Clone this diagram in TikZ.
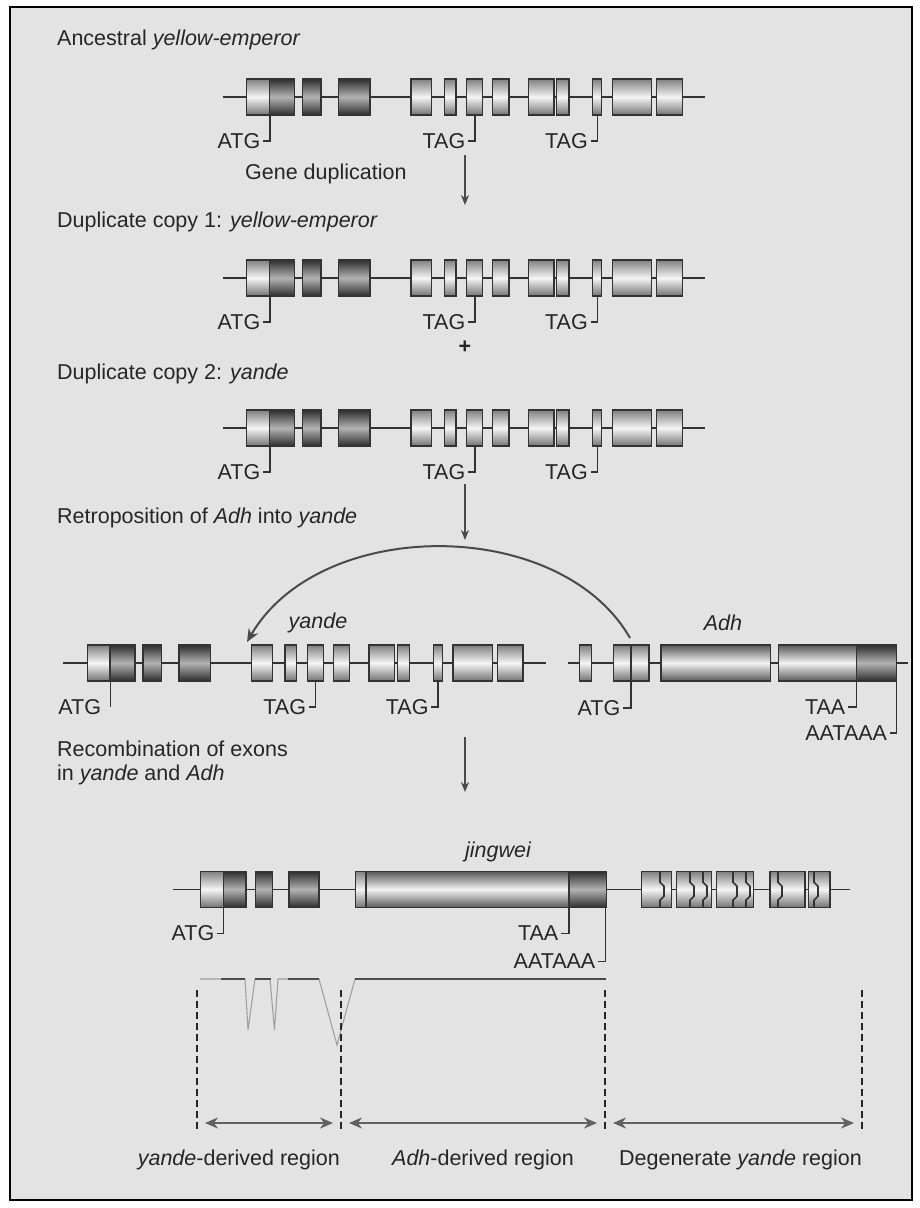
\documentclass[tikz,border=0pt]{standalone}
\usepackage{fontspec}
\setmainfont{Liberation Sans}
\usetikzlibrary{arrows.meta}
\definecolor{panel}{HTML}{E3E3E3}
\definecolor{ink}{HTML}{262626}
\definecolor{exline}{HTML}{333333}
\definecolor{arrgrey}{HTML}{4A4A4A}
\definecolor{spangrey}{HTML}{616161}
\definecolor{profgrey}{HTML}{A0A0A0}

\newcommand{\exon}[3]{\path[#1] (#2,-18) rectangle (#3,18);}
\newcommand{\crack}[1]{\draw[exline,line width=1.6] (#1,-18) -- (#1,-7) -- (#1+4,-3) -- (#1+4,7) -- (#1,11) -- (#1,18);}
\newcommand{\yellowemperor}[3]{%
 \begin{scope}[shift={#1}]
 \draw[gene] (222.7,0) -- (705,0);
 \exon{lite}{246.7}{269.3} \exon{dark}{269.3}{294.3}
 \exon{dark}{302.3}{321} \exon{dark}{338.3}{370}
 \foreach \a/\b in {411/431.7,444.3/456,466.7/482.7,492.7/509,528.3/554,
   556.7/569,592.7/601.7,612.3/651.7,656.7/682.3}
  {\exon{lite}{\a}{\b}}
 \node[site] (#2atg) at (263,44) {ATG};
 \node[site] (#2tagA) at (468,44) {TAG};
 \node[site] (#2tagB) at (590.5,44) {TAG};
 \draw[tick] (270,18) |- ([xshift=#3]#2atg.east);
 \draw[tick] (475,18) |- (#2tagA);
 \draw[tick] (597.3,18) |- (#2tagB);
 \end{scope}}

\begin{document}
\begin{tikzpicture}[x=1pt,y=-1pt,
 every node/.style={font=\fontsize{21.5}{24}\selectfont,text=ink},
 stage/.style={anchor=west,inner sep=0pt},
 site/.style={anchor=east,inner sep=2.5pt},
 genename/.style={font=\fontsize{21.5}{24}\selectfont\itshape},
 gene/.style={draw=exline,line width=1.5},
 tick/.style={draw=exline,line width=1.4},
 lite/.style={draw=exline,line width=1.4,top color=black!50,bottom color=black!55,middle color=black!4},
 dark/.style={draw=exline,line width=1.4,top color=black!82,bottom color=black!82,middle color=black!30},
 long/.style={draw=exline,line width=1.4,top color=black!65,bottom color=black!65,middle color=black!5},
 stagearr/.style={draw=arrgrey,line width=1.5,-{Stealth[length=10pt,width=8pt]}},
 retroarr/.style={draw=arrgrey,line width=2,-{Stealth[length=13pt,width=11pt]}},
 guide/.style={draw=black!85,line width=1.3,dash pattern=on 7pt off 4pt},
 span/.style={draw=spangrey,line width=2.6,{Stealth[length=13pt,width=11pt]}-{Stealth[length=13pt,width=11pt]},shorten <=8pt,shorten >=8pt},
 prof/.style={draw=profgrey,line width=1.1},
 profhi/.style={draw=black!70,line width=2}]
\useasboundingbox (0,0) rectangle (919,1208);
\fill[white] (0,0) rectangle (919,1208);
\draw[line width=2.5,fill=panel] (10,7) rectangle (912,1200);

\node[stage] (ancestral) at (57,40) {Ancestral \textit{yellow-emperor}};
\yellowemperor{(0,97)}{anc}{0pt}
\node[stage] (geneDup) at (245,174) {Gene duplication};
\coordinate (dupTop) at (465,155); \coordinate (dupEnd) at (465,205);
\draw[stagearr] (dupTop) -- (dupEnd);

\node[stage] (copyA) at (57,222) {Duplicate copy 1: \textit{yellow-emperor}};
\yellowemperor{(0,278)}{ye}{0pt}
\node (plus) at (465,347) {\textbf{+}};
\node[stage] (copyB) at (57,374) {Duplicate copy 2: \textit{yande}};
\yellowemperor{(0,428)}{yd}{0pt}

\node[stage] (retro) at (57,518) {Retroposition of \textit{Adh} into \textit{yande}};
\coordinate (retroTop) at (465,484); \coordinate (retroEnd) at (465,540);
\draw[stagearr] (retroTop) -- (retroEnd);

\yellowemperor{(-159.3,663)}{ya}{7pt}
\node[genename] (yandeName) at (318,623) {yande};

\begin{scope}[shift={(0,663)}]
 \draw[gene] (568.3,0) -- (908.3,0);
 \exon{lite}{579.3}{591.7} \exon{lite}{613.3}{631} \exon{lite}{631}{649}
 \exon{long}{661}{770.7} \exon{long}{778.7}{856.7} \exon{dark}{856.7}{896.7}
 \node[genename] (adhName) at (723,-40) {Adh};
 \node[site] (adhatg) at (623,45) {ATG};
 \node[site] (adhtaa) at (848,44) {TAA};
 \node[site] (adhpoly) at (889.7,70) {AATAAA};
 \draw[tick] (631,18) |- (adhatg);
 \draw[tick] (856.7,18) |- (adhtaa);
 \draw[tick] (896.7,18) |- (adhpoly);
 \coordinate (adhExon) at (630,-25);
\end{scope}
\coordinate (yandeSite) at (247,642);
\draw[retroarr] (adhExon) .. controls (560,516) and (320,516) .. (yandeSite);

\node[stage,align=left,anchor=north west] (recomb) at (57,741) {Recombination of exons\\in \textit{yande} and \textit{Adh}};
\coordinate (recTop) at (465,737); \coordinate (recEnd) at (465,792);
\draw[stagearr] (recTop) -- (recEnd);

\begin{scope}[shift={(0,889.3)}]
 \draw[gene] (173.3,0) -- (850,0);
 \exon{lite}{200.7}{223.3} \exon{dark}{223.3}{246} \exon{dark}{255.7}{272.3}
 \exon{dark}{289}{319} \exon{lite}{355.7}{366} \exon{long}{366}{569}
 \exon{dark}{569}{606.7}
 \foreach \a/\b in {641.7/671.7,676.7/711.7,716.7/753.3,770/805,808.3/830}
  {\exon{lite}{\a}{\b}}
 \foreach \c in {660,690,703,733,746,778,814} {\crack{\c}}
 \node[genename] (jwName) at (498,-37) {jingwei};
 \node[site] (jwatg) at (217,44) {ATG};
 \node[site] (jwtaa) at (561,44) {TAA};
 \node[site] (jwpoly) at (598,72) {AATAAA};
 \draw[tick] (223.3,18) |- (jwatg);
 \draw[tick] (569,18) |- (jwtaa);
 \draw[tick] (605.5,18) |- (jwpoly);
\end{scope}

\draw[prof] (200,979) -- (245,979) -- (248,1030) -- (255,979) -- (270,979)
 -- (274.5,1030) -- (278,979) -- (319,979) -- (337,1045) -- (355,979) -- (606,979);
\draw[profhi] (221,979) -- (245,979) (255,979) -- (271,979) (288,979) -- (319,979)
 (355,979) -- (606,979);

\foreach \n/\x in {bA/197,bB/341,bC/605,bD/862} {
 \draw[guide] (\x,990) -- (\x,1133);
 \coordinate (\n) at (\x,1123);
}
\draw[span] (bA) -- (bB);
\draw[span] (bB) -- (bC);
\draw[span] (bC) -- (bD);

\node[anchor=east,inner sep=0pt] (yandeRegion) at (340,1160) {\textit{yande}-derived region};
\node[inner sep=0pt] (adhRegion) at (483,1160) {\textit{Adh}-derived region};
\node[anchor=east,inner sep=0pt] (degRegion) at (862,1160) {Degenerate \textit{yande} region};
\end{tikzpicture}
\end{document}
